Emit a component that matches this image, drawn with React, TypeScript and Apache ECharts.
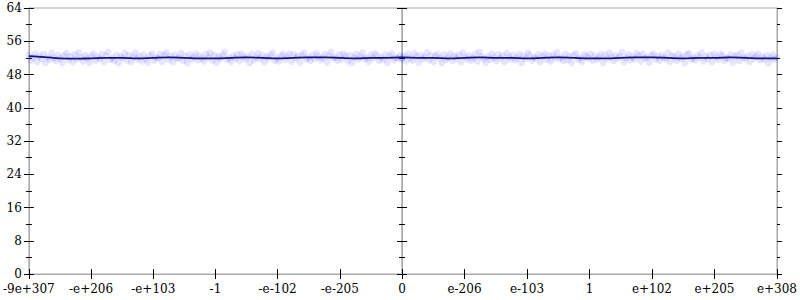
import React, { useEffect, useRef } from "react";
import * as echarts from "echarts";

const leftTickLabels = ["-9e+307", "-e+206", "-e+103", "-1", "-e-102", "-e-205", "0"];
const rightTickLabels = ["0", "e-206", "e-103", "1", "e+102", "e+205", "e+308"];
const yTickValues = [0, 8, 16, 24, 32, 40, 48, 56, 64];

const leftCloud = [
  52.6, 51.4, 52.1, 53.0, 51.1, 52.4, 51.8, 52.9, 50.9, 52.2, 51.6, 53.2, 52.0, 51.3, 52.7, 51.9, 50.8, 52.5, 53.1, 51.5,
  52.3, 51.0, 52.8, 51.7, 53.3, 52.1, 51.2, 52.6, 51.9, 50.9, 52.4, 53.0, 51.4, 52.2, 51.8, 52.9, 51.1, 52.5, 53.4, 51.6,
  52.0, 51.3, 52.7, 50.8, 52.3, 51.9, 53.1, 51.5, 52.6, 51.0, 52.2, 53.2, 51.7, 52.4, 51.2, 52.8, 51.8, 50.9, 52.5, 53.0,
  51.4, 52.1, 51.9, 52.9, 51.1, 52.6, 53.3, 51.6, 52.3, 51.0, 52.7, 51.8, 52.0, 53.1, 51.3, 52.4, 50.8, 52.8, 51.7, 52.2,
  53.0, 51.5, 52.5, 51.9, 51.2, 52.9, 52.1, 53.2, 51.4, 52.6, 50.9, 52.3, 51.8, 52.7, 53.4, 51.6, 52.0, 51.1, 52.5, 51.9,
  52.8, 51.3, 53.0, 52.2, 51.7, 52.4, 50.8, 52.9, 51.5, 52.1, 53.1, 51.8, 52.6, 51.0, 52.3, 51.9, 52.7, 53.3, 51.4, 52.0,
  51.2, 52.5, 52.9, 51.6, 52.2, 53.0, 51.1, 52.8, 51.9, 52.4, 50.9, 52.6, 53.2, 51.7, 52.1, 51.3, 52.7, 51.8, 53.1, 52.3,
  51.5, 52.0, 52.9, 51.0, 52.5, 53.4, 51.9, 52.2, 51.4, 52.8, 51.7, 53.0, 52.4, 51.2, 52.6, 50.8, 52.1, 52.9, 51.6, 52.3,
  53.2, 51.8, 52.0, 51.1, 52.7, 51.9, 53.1, 52.5, 51.3, 52.2, 51.6, 52.8, 50.9, 52.4, 53.0, 51.5, 52.1, 51.9, 52.6, 52.0,
];

const rightCloud = [
  51.7, 52.5, 51.2, 52.9, 52.0, 51.4, 53.1, 52.3, 50.9, 52.7, 51.8, 52.2, 53.3, 51.5, 52.6, 51.1, 52.4, 52.9, 51.9, 50.8,
  52.8, 51.6, 52.1, 53.0, 51.3, 52.5, 51.9, 52.7, 51.0, 53.2, 52.2, 51.7, 52.6, 51.4, 52.0, 52.9, 51.2, 53.4, 52.3, 51.8,
  50.9, 52.4, 51.6, 53.0, 52.1, 51.3, 52.8, 51.9, 52.5, 51.1, 53.1, 52.2, 51.7, 52.7, 51.5, 52.0, 52.9, 50.8, 52.4, 51.8,
  53.2, 52.6, 51.4, 52.1, 51.9, 52.8, 51.0, 52.3, 53.0, 51.6, 52.5, 51.2, 52.7, 52.0, 53.3, 51.8, 52.2, 51.3, 52.9, 51.5,
  52.4, 50.9, 52.6, 53.1, 51.7, 52.0, 51.1, 52.8, 52.3, 51.9, 53.0, 51.4, 52.5, 51.6, 52.1, 52.9, 50.8, 52.7, 51.8, 53.2,
  52.2, 51.3, 52.6, 51.9, 52.4, 53.4, 51.0, 52.0, 52.8, 51.5, 52.3, 51.7, 53.1, 52.5, 51.2, 52.9, 51.9, 52.1, 50.9, 52.6,
  53.0, 51.6, 52.4, 51.4, 52.7, 52.0, 51.8, 53.2, 51.1, 52.5, 52.2, 51.3, 52.9, 51.9, 52.3, 50.8, 52.8, 53.1, 51.7, 52.0,
  51.5, 52.6, 52.1, 53.3, 51.2, 52.4, 51.8, 52.7, 51.0, 52.9, 52.2, 51.6, 53.0, 52.5, 51.4, 52.0, 51.9, 52.8, 50.9, 52.3,
  52.7, 51.3, 53.2, 52.1, 51.8, 52.5, 51.1, 52.9, 51.9, 52.4, 53.0, 51.5, 52.2, 51.7, 52.6, 50.8, 52.0, 52.8, 51.6, 52.1,
];

const leftLine = [
  52.4, 52.2, 51.9, 51.8, 51.9, 52.0, 52.0, 51.9, 52.0, 52.1, 52.0, 51.9, 51.9,
  52.0, 52.1, 52.0, 51.9, 52.0, 52.1, 52.1, 52.0, 51.9, 52.0, 52.0, 52.1,
];
const rightLine = [
  52.1, 52.0, 52.0, 51.9, 52.0, 52.1, 52.0, 52.0, 51.9, 52.0, 52.1, 52.0, 51.9,
  51.9, 52.0, 52.1, 52.1, 52.0, 51.9, 52.0, 52.0, 52.1, 52.0, 51.9, 51.9,
];

const AXIS_GRAY = "#aaaaaa";
const FONT = "'DejaVu Serif', serif";

function toXY(values: number[], span: number) {
  return values.map((v, i) => [(i * span) / (values.length - 1), v]);
}

export default function App() {
  const ref = useRef<HTMLDivElement>(null);
  useEffect(() => {
    if (!ref.current) return;
    const chart = echarts.init(ref.current, null, { renderer: "svg" });

    const xBase = (grid: number, labels: string[], inside: boolean, showLabels: boolean, hideFirst: boolean) => ({
      type: "value",
      gridIndex: grid,
      position: "bottom",
      min: 0,
      max: 6,
      interval: 1,
      axisLine: { show: true, lineStyle: { color: AXIS_GRAY, width: 1 } },
      axisTick: { show: true, inside, length: 5, lineStyle: { color: "#000", width: 1 } },
      axisLabel: {
        show: showLabels,
        margin: 9,
        color: "#000",
        fontFamily: FONT,
        fontSize: 12,
        showMinLabel: !hideFirst,
        formatter: (v: number) => labels[Math.round(v)] ?? "",
      },
      splitLine: { show: false },
    });

    const yBase = (grid: number, position: string, inside: boolean, showLabels: boolean) => ({
      type: "value",
      gridIndex: grid,
      position,
      min: 0,
      max: 64,
      interval: 8,
      axisLine: { show: true, lineStyle: { color: AXIS_GRAY, width: 1 } },
      axisTick: { show: true, inside, length: 5, lineStyle: { color: "#000", width: 1 } },
      minorTick: { show: true, splitNumber: 2, length: 3, lineStyle: { color: "#000", width: 1 } },
      axisLabel: {
        show: showLabels,
        margin: 7,
        color: "#000",
        fontFamily: FONT,
        fontSize: 12,
        formatter: (v: number) => (yTickValues.includes(v) ? String(v) : ""),
      },
      splitLine: { show: false },
    });

    const cloudStyle = { color: "rgba(30,30,255,0.14)" };
    const lineStyle = { color: "#14147e", width: 1.8 };

    chart.setOption({
      animation: false,
      grid: [
        { left: 28, top: 8, width: 374, height: 266, show: true, borderColor: AXIS_GRAY, borderWidth: 1 },
        { left: 402, top: 8, width: 375, height: 266, show: true, borderColor: AXIS_GRAY, borderWidth: 1 },
      ],
      xAxis: [
        xBase(0, leftTickLabels, false, true, false),
        xBase(0, leftTickLabels, true, false, false),
        xBase(1, rightTickLabels, false, true, true),
        xBase(1, rightTickLabels, true, false, true),
      ],
      yAxis: [
        yBase(0, "left", false, true),
        yBase(0, "left", true, false),
        yBase(0, "right", true, false),
        yBase(1, "left", true, false),
        yBase(1, "right", true, false),
        yBase(1, "right", false, false),
      ],
      series: [
        {
          type: "scatter",
          xAxisIndex: 0,
          yAxisIndex: 0,
          data: toXY(leftCloud, 6),
          symbolSize: 7,
          itemStyle: cloudStyle,
          z: 1,
        },
        {
          type: "scatter",
          xAxisIndex: 2,
          yAxisIndex: 3,
          data: toXY(rightCloud, 6),
          symbolSize: 7,
          itemStyle: cloudStyle,
          z: 1,
        },
        {
          type: "line",
          xAxisIndex: 0,
          yAxisIndex: 0,
          data: toXY(leftLine, 6),
          showSymbol: false,
          smooth: 0.4,
          lineStyle,
          z: 2,
        },
        {
          type: "line",
          xAxisIndex: 2,
          yAxisIndex: 3,
          data: toXY(rightLine, 6),
          showSymbol: false,
          smooth: 0.4,
          lineStyle,
          z: 2,
        },
      ],
    });
    return () => chart.dispose();
  }, []);
  return <div ref={ref} style={{ width: 800, height: 300, position: "absolute", left: 0, top: 0 }} />;
}
